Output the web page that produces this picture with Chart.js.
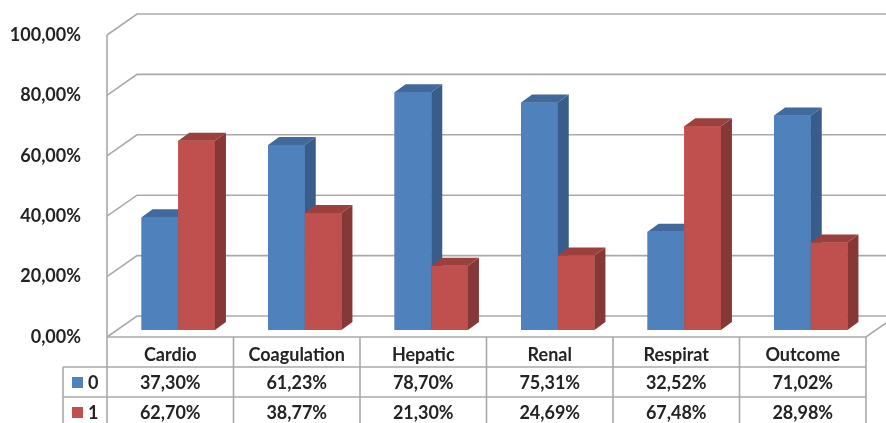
<!DOCTYPE html>
<html>
<head>
<meta charset="utf-8">
<script src="https://cdn.jsdelivr.net/npm/chart.js@4.4.1/dist/chart.umd.min.js"></script>
<style>
  html, body { margin: 0; padding: 0; background: #ffffff; }
  canvas { display: block; }
</style>
</head>
<body>
<canvas id="chart" width="886" height="423"></canvas>
<script>
// ---- data ----
const categories = ['Cardio', 'Coagulation', 'Hepatic', 'Renal', 'Respirat', 'Outcome'];
const seriesNames = ['0', '1'];
const group0 = [37.30, 61.23, 78.70, 75.31, 32.52, 71.02];
const group1 = [62.70, 38.77, 21.30, 24.69, 67.48, 28.98];
const yTicks = [0, 20, 40, 60, 80, 100];

// ---- styling ----
const frontColors = ['#4f81bd', '#c0504d'];
const sideColors  = ['#385d8a', '#853836'];
const topColors   = ['#41699c', '#9c403d'];
const GRID = '#a9a9a9';
const TEXT = '#232323';
const FONT = { family: 'Lato, "Open Sans", sans-serif', size: 18, weight: 'bold' };

// oblique projection offsets
const WALL  = { dx: 30, dy: -21 };  // depth of floor and side wall
const BAR   = { dx: 11, dy: -8 };   // depth of each column
const FRONT = { dx: -8, dy: 7 };    // front edge of the floor relative to the column plane

const fmt = v => v.toFixed(2).replace('.', ',') + '%';

function poly(ctx, pts, color) {
  ctx.beginPath();
  ctx.moveTo(pts[0][0], pts[0][1]);
  for (let i = 1; i < pts.length; i++) ctx.lineTo(pts[i][0], pts[i][1]);
  ctx.closePath();
  ctx.fillStyle = color;
  ctx.fill();
}
function line(ctx, x1, y1, x2, y2) {
  ctx.beginPath();
  ctx.moveTo(x1, y1);
  ctx.lineTo(x2, y2);
  ctx.stroke();
}

// side wall, back wall gridlines and floor
const walls = {
  id: 'walls',
  beforeDatasetsDraw(chart) {
    const { ctx, scales: { x, y } } = chart;
    const fl = x.left + FRONT.dx;
    const fr = x.right + FRONT.dx;
    ctx.save();
    ctx.strokeStyle = GRID;
    ctx.lineWidth = 1.6;
    yTicks.forEach(v => {
      const fy = y.getPixelForValue(v) + FRONT.dy;
      ctx.beginPath();
      ctx.moveTo(fl, fy);
      ctx.lineTo(fl + WALL.dx, fy + WALL.dy);
      ctx.lineTo(chart.width + 40, fy + WALL.dy);
      ctx.stroke();
    });
    const top = y.getPixelForValue(yTicks[yTicks.length - 1]) + FRONT.dy;
    const base = y.getPixelForValue(0) + FRONT.dy;
    line(ctx, fl, top, fl, chart.height);
    ctx.beginPath();
    ctx.moveTo(fl, base);
    ctx.lineTo(fr, base);
    ctx.lineTo(fr + WALL.dx, base + WALL.dy);
    ctx.stroke();
    ctx.restore();
  }
};

// columns: front face, side face and top face, drawn back to front
const columns = {
  id: 'columns',
  afterDatasetsDraw(chart) {
    const ctx = chart.ctx;
    const metas = chart.data.datasets.map((d, i) => chart.getDatasetMeta(i));
    ctx.save();
    categories.forEach((_, j) => {
      metas.forEach((meta, i) => {
        const bar = meta.data[j];
        const { x, y, base, width } = bar.getProps(['x', 'y', 'base', 'width'], true);
        const l = x - width / 2, r = x + width / 2;
        bar.draw(ctx);
        poly(ctx, [[r, base], [r + BAR.dx, base + BAR.dy], [r + BAR.dx, y + BAR.dy], [r, y]], sideColors[i]);
        poly(ctx, [[l, y], [r, y], [r + BAR.dx, y + BAR.dy], [l + BAR.dx, y + BAR.dy]], topColors[i]);
      });
    });
    ctx.restore();
  }
};

// data table under the plot
const dataTable = {
  id: 'dataTable',
  afterDraw(chart) {
    const { ctx, scales: { x, y } } = chart;
    const n = categories.length;
    const w = x.width / n;
    const fl = x.left + FRONT.dx;
    const fr = fl + n * w;
    const top = y.getPixelForValue(0) + FRONT.dy;
    const rowH = 30;
    const legL = fl - 44;
    ctx.save();
    ctx.strokeStyle = GRID;
    ctx.lineWidth = 1.6;
    for (let i = 1; i <= n; i++) line(ctx, fl + i * w, top, fl + i * w, top + 3 * rowH);
    for (let r = 1; r <= 3; r++) line(ctx, legL, top + r * rowH, fr, top + r * rowH);
    line(ctx, legL, top + rowH, legL, top + 3 * rowH);

    ctx.font = `${FONT.weight} ${FONT.size}px ${FONT.family}`;
    ctx.textBaseline = 'middle';
    chart.data.datasets.forEach((ds, r) => {
      const cy = top + (r + 1.5) * rowH;
      ctx.fillStyle = TEXT;
      ctx.textAlign = 'center';
      ds.data.forEach((v, j) => ctx.fillText(fmt(v), x.getPixelForValue(j) + FRONT.dx, cy + 1));
      ctx.fillStyle = ds.backgroundColor;
      ctx.fillRect(legL + 9, cy - 5, 11, 11);
      ctx.fillStyle = TEXT;
      ctx.textAlign = 'left';
      ctx.fillText(ds.label, legL + 25, cy + 1);
    });
    ctx.restore();
  }
};

new Chart(document.getElementById('chart'), {
  type: 'bar',
  data: {
    labels: categories,
    datasets: [
      { label: seriesNames[0], data: group0, backgroundColor: frontColors[0] },
      { label: seriesNames[1], data: group1, backgroundColor: frontColors[1] }
    ]
  },
  options: {
    responsive: false,
    animation: false,
    devicePixelRatio: 1,
    layout: { padding: { left: 0, right: 12, top: 28, bottom: 0 } },
    datasets: { bar: { barPercentage: 1, categoryPercentage: 0.58 } },
    plugins: { legend: { display: false }, tooltip: { enabled: false } },
    scales: {
      x: {
        grid: { display: false, drawTicks: false },
        border: { display: false },
        ticks: { font: FONT, color: TEXT, padding: 14, labelOffset: FRONT.dx, maxRotation: 0, autoSkip: false },
        afterFit(s) { s.height = 93; }
      },
      y: {
        min: 0,
        max: 100,
        grid: { display: false, drawTicks: false },
        border: { display: false },
        ticks: { stepSize: 20, font: FONT, color: TEXT, padding: 34, labelOffset: FRONT.dy, callback: v => fmt(v) },
        afterFit(s) {
          s.width = 115;
          s.paddingTop = 0;
          s.paddingBottom = 0;
        }
      }
    }
  },
  plugins: [walls, columns, dataTable]
});
</script>
</body>
</html>
